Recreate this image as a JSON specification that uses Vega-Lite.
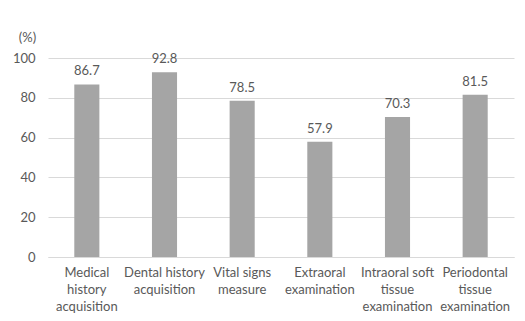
{
  "$schema": "https://vega.github.io/schema/vega-lite/v6.json",
  "width": 466,
  "height": 199,
  "autosize": "none",
  "padding": {"left": 48, "top": 58, "right": 11, "bottom": 64},
  "background": "white",
  "config": {
    "view": {"stroke": null},
    "font": "Lato",
    "axis": {"labelFont": "Lato", "titleFont": "Lato", "labelColor": "#595959", "titleColor": "#595959", "labelFontSize": 13}
  },
  "data": {"values": [
    {"item": "Medical history acquisition", "pct": 86.7},
    {"item": "Dental history acquisition", "pct": 92.8},
    {"item": "Vital signs measure", "pct": 78.5},
    {"item": "Extraoral examination", "pct": 57.9},
    {"item": "Intraoral soft tissue examination", "pct": 70.3},
    {"item": "Periodontal tissue examination", "pct": 81.5}
  ]},
  "encoding": {
    "x": {"field": "item", "type": "nominal", "sort": null,
      "scale": {"paddingInner": 0.677, "paddingOuter": 0.3385},
      "axis": {"title": null, "labelAngle": 0, "ticks": false, "domainColor": "#D9D9D9", "labelPadding": 9, "labelLineHeight": 17, "labelBaseline": "top",
        "labelExpr": "datum.value == 'Medical history acquisition' ? ['Medical','history','acquisition'] : datum.value == 'Dental history acquisition' ? ['Dental history','acquisition'] : datum.value == 'Vital signs measure' ? ['Vital signs','measure'] : datum.value == 'Extraoral examination' ? ['Extraoral','examination'] : datum.value == 'Intraoral soft tissue examination' ? ['Intraoral soft','tissue','examination'] : ['Periodontal','tissue','examination']"}},
    "y": {"field": "pct", "type": "quantitative",
      "scale": {"domain": [0, 100]},
      "axis": {"values": [0, 20, 40, 60, 80, 100], "title": "(%)", "titleAngle": 0, "titleX": -21, "titleY": -21, "titleAlign": "center", "titleBaseline": "middle", "titleFontWeight": "normal", "titleFontSize": 13,
        "domain": false, "ticks": false, "labelPadding": 13, "gridColor": "#D9D9D9", "gridWidth": 1}}
  },
  "layer": [
    {"mark": {"type": "bar", "color": "#A5A5A5"}},
    {"mark": {"type": "text", "baseline": "bottom", "dy": -6, "color": "#595959", "fontSize": 13, "font": "Lato"},
     "encoding": {"text": {"field": "pct", "type": "quantitative", "format": ".1f"}}}
  ]
}
